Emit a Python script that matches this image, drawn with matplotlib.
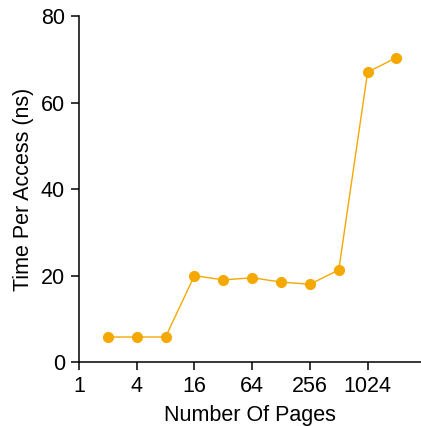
import numpy as np
import matplotlib.pyplot as plt

plt.rcParams['font.family'] = ['Liberation Sans', 'DejaVu Sans']

pages = [2, 4, 8, 16, 32, 64, 128, 256, 512, 1024, 2048]
time_ns = [5.8, 5.8, 5.8, 20.0, 19.0, 19.5, 18.5, 18.0, 21.3, 67.0, 70.4]
xticks = [1, 4, 16, 64, 256, 1024]

fig = plt.figure(figsize=(4.21, 4.26), dpi=100)
ax = fig.add_axes([0.1876, 0.150, 0.8124, 0.8124])

ax.plot(pages, time_ns, color='#f5a800', linewidth=1, marker='o',
        markersize=7, clip_on=False)

ax.set_xscale('log', base=2)
ax.set_xlim(1, 2 ** 11.85)
ax.set_ylim(0, 80)
ax.set_xticks(xticks)
ax.set_xticklabels([str(t) for t in xticks])
ax.minorticks_off()
ax.set_yticks([0, 20, 40, 60, 80])

for s in ['top', 'right']:
    ax.spines[s].set_visible(False)
for s in ['left', 'bottom']:
    ax.spines[s].set_linewidth(1.1)
ax.tick_params(labelsize=15.5, length=6, width=1.1, pad=4)

ax.set_xlabel('Number Of Pages', fontsize=15.5, labelpad=6)
ax.set_ylabel('Time Per Access (ns)', fontsize=15.5, labelpad=5)

fig.savefig('out.png', dpi=100)
